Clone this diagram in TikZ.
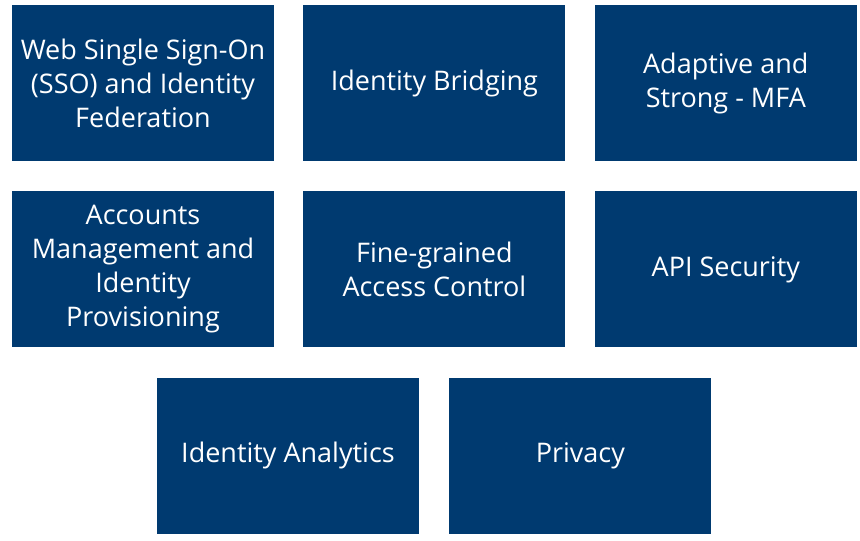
\documentclass[tikz,border=0pt]{standalone}
\usepackage{fontspec}
\setmainfont{Open Sans}
\usepackage{tikz}
\usetikzlibrary{positioning}
\definecolor{tileblue}{RGB}{0,58,112}
\tikzset{node distance=29pt,
  tile/.style={fill=tileblue, text=white, minimum width=262pt, minimum height=156pt,
    inner sep=0pt, align=center, font=\fontsize{27}{34}\selectfont}}

\begin{document}
\begin{tikzpicture}[x=1pt,y=-1pt]
           \useasboundingbox (0,0) rectangle (860,541);

           \node[tile] (sso) at (143,83) {Web Single Sign-On\\(SSO) and Identity\\Federation};
           \node[tile] (bridge) [right=29pt of sso] {Identity Bridging};
           \node[tile] (mfa) [right=29pt of bridge] {Adaptive and\\Strong - MFA};

           \node[tile] (accounts) [below=30pt of sso] {Accounts\\Management and\\Identity\\Provisioning};
           \node[tile] (access) [below=30pt of bridge] {Fine-grained\\Access Control};
           \node[tile] (api) [below=30pt of mfa] {API Security};

           \node[tile] (analytics) [below=30pt of accounts, xshift=145pt] {Identity Analytics};
           \node[tile] (privacy) [right=30pt of analytics] {Privacy};

         \end{tikzpicture}
\end{document}
